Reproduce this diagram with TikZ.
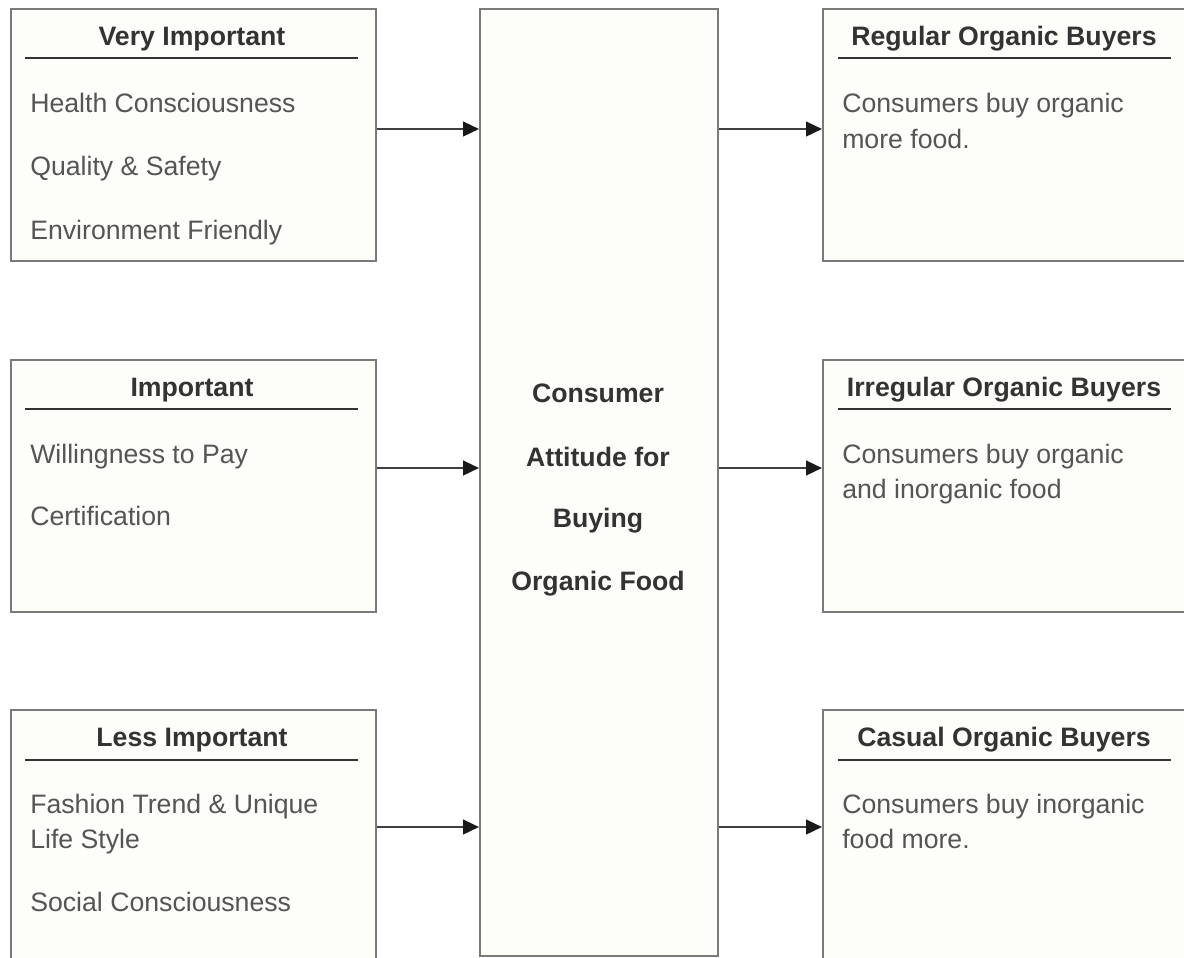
\documentclass[tikz,border=0pt]{standalone}
\usepackage{fontspec}
\setmainfont{Liberation Sans}
\usetikzlibrary{arrows.meta}
\definecolor{boxline}{HTML}{7A7A7A}
\definecolor{boxfill}{HTML}{FDFDFA}
\definecolor{titletext}{HTML}{333333}
\definecolor{bodytext}{HTML}{555555}
\definecolor{arrline}{HTML}{404040}
\definecolor{arrtip}{HTML}{1A1A1A}
\tikzset{
  panel/.style={draw=boxline, line width=1.4pt, fill=boxfill, anchor=north west, inner sep=0pt},
  sidepanel/.style={panel, minimum width=273.75pt, minimum height=189pt},
  rightpanel/.style={panel, minimum width=283.5pt, minimum height=189pt},
  titletxt/.style={anchor=base, inner sep=0pt, text=titletext, font=\fontsize{20}{24}\selectfont\bfseries},
  bodytxt/.style={anchor=base west, inner sep=0pt, text=bodytext, font=\fontsize{20}{24}\selectfont},
  centertxt/.style={anchor=base, inner sep=0pt, text=titletext, font=\fontsize{20}{24}\selectfont\bfseries},
  uline/.style={draw=titletext, line width=1.1pt},
  arr/.style={draw=arrline, line width=1.8pt, -{Triangle[length=12pt,width=11pt,color=arrtip]}}
}
\begin{document}
\begin{tikzpicture}[x=0.75pt,y=-0.75pt]
\clip (0,0) rectangle (1184,957);
\fill[white] (0,0) rectangle (1184,957);
% left panels
\node[sidepanel] (L1) at (10,8) {};
\node[sidepanel] (L2) at (10,359) {};
\node[panel, minimum width=273.75pt, minimum height=203.25pt] (L3) at (10,709) {};
% center panel
\node[panel, minimum width=178.5pt, minimum height=710.25pt] (C) at (479,8) {};
% right panels
\node[rightpanel] (R1) at (822,8) {};
\node[rightpanel] (R2) at (822,359) {};
\node[panel, minimum width=283.5pt, minimum height=203.25pt] (R3) at (822,709) {};

% underlines
\draw[uline] (25,58) -- (358,58);
\draw[uline] (25,409) -- (358,409);
\draw[uline] (25,760) -- (358,760);
\draw[uline] (838,58) -- (1171,58);
\draw[uline] (838,409) -- (1171,409);
\draw[uline] (838,760) -- (1171,760);

% left texts
\node[titletxt] (l1t) at (192,45) {Very Important};
\node[bodytxt] (l1a) at (30,112) {Health Consciousness};
\node[bodytxt] (l1b) at (30,175) {Quality \& Safety};
\node[bodytxt] (l1c) at (30,239) {Environment Friendly};

\node[titletxt] (l2t) at (192,396) {Important};
\node[bodytxt] (l2a) at (30,463) {Willingness to Pay};
\node[bodytxt] (l2b) at (30,525) {Certification};

\node[titletxt] (l3t) at (192,746) {Less Important};
\node[bodytxt] (l3a) at (30,813) {Fashion Trend \& Unique};
\node[bodytxt] (l3b) at (30,848) {Life Style};
\node[bodytxt] (l3c) at (30,911) {Social Consciousness};

% center texts
\node[centertxt] (c1) at (598,402) {Consumer};
\node[centertxt] (c2) at (598,466) {Attitude for};
\node[centertxt] (c3) at (598,527) {Buying};
\node[centertxt] (c4) at (598,590) {Organic Food};

% right texts
\node[titletxt] (r1t) at (1004,45) {Regular Organic Buyers};
\node[bodytxt] (r1a) at (842,112) {Consumers buy organic};
\node[bodytxt] (r1b) at (842,148) {more food.};

\node[titletxt] (r2t) at (1004,396) {Irregular Organic Buyers};
\node[bodytxt] (r2a) at (842,463) {Consumers buy organic};
\node[bodytxt] (r2b) at (842,498) {and inorganic food};

\node[titletxt] (r3t) at (1004,746) {Casual Organic Buyers};
\node[bodytxt] (r3a) at (842,813) {Consumers buy inorganic};
\node[bodytxt] (r3b) at (842,848) {food more.};

% arrows
\coordinate (a1) at ([yshift=-90.75pt]L1.north east);
\coordinate (a2) at ([yshift=-81.75pt]L2.north east);
\coordinate (a3) at ([yshift=-88.5pt]L3.north east);
\draw[arr] (a1) -- (a1 -| C.west);
\draw[arr] (a2) -- (a2 -| C.west);
\draw[arr] (a3) -- (a3 -| C.west);
\coordinate (b1) at (a1 -| C.east);
\coordinate (b2) at (a2 -| C.east);
\coordinate (b3) at (a3 -| C.east);
\draw[arr] (b1) -- (b1 -| R1.west);
\draw[arr] (b2) -- (b2 -| R2.west);
\draw[arr] (b3) -- (b3 -| R3.west);
\end{tikzpicture}
\end{document}
